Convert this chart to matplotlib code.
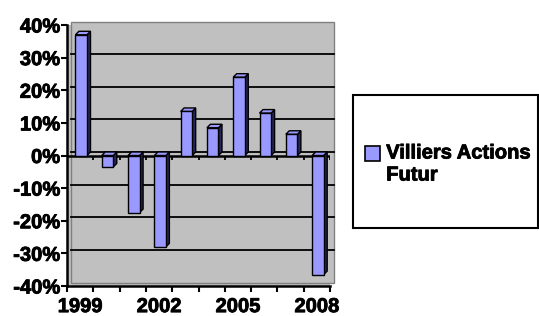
import matplotlib
matplotlib.use("Agg")
import matplotlib.pyplot as plt
import matplotlib.patheffects as pe
from matplotlib.patches import Polygon, Rectangle
from matplotlib.legend_handler import HandlerPatch

years = [1999, 2000, 2001, 2002, 2003, 2004, 2005, 2006, 2007, 2008]
returns = [37, -3.5, -17.5, -28, 13.5, 8.5, 24, 13, 6.5, -36.5]
label_years = [1999, 2002, 2005, 2008]
pct_ticks = [-40, -30, -20, -10, 0, 10, 20, 30, 40]
series_name = "Villiers Actions\nFutur"

face = "#9999FF"
side = "#262659"
wall = "#C0C0C0"
thick = [pe.withStroke(linewidth=0.6, foreground="black")]

plt.rcParams['font.family'] = ['Liberation Sans', 'DejaVu Sans']
plt.rcParams['font.weight'] = 'bold'

W, H = 539, 316
fig = plt.figure(figsize=(W / 100, H / 100), dpi=100)
ax = fig.add_axes([67 / W, 30 / H, 263 / W, 261 / H])
n = len(years)
ax.set_xlim(0, n)
ax.set_ylim(-40, 40)
ax.set_facecolor(wall)

# depth of the fake 3D, in pixels -> data units
dpx = 3.5
dx = dpx * n / ax.bbox.width
dy = dpx * 80 / ax.bbox.height

# back wall, shifted by the depth
ax.add_patch(Rectangle((dx, -40 + dy), n, 80, facecolor=wall, edgecolor="#808080",
                       lw=1, zorder=0, clip_on=False))
for v in pct_ticks[1:-1]:
    ax.plot([dx, n + dx], [v + dy, v + dy], color="black", lw=1.3, zorder=1, clip_on=False)

# floor line at zero with small ticks
ax.plot([0, n], [0, 0], color="black", lw=1.8, zorder=2)
ax.vlines(range(n + 1), -1.4, 0, color="black", lw=1.3, zorder=2)

bw = 0.44
for i, v in enumerate(returns):
    x0 = i + 0.5 - bw / 2 + 0.04
    x1 = x0 + bw
    yb, yt = min(0, v), max(0, v)
    ax.add_patch(Polygon([(x1, yb), (x1 + dx, yb + dy), (x1 + dx, yt + dy), (x1, yt)],
                         closed=True, facecolor=side, edgecolor="black", lw=1, zorder=3))
    ax.add_patch(Polygon([(x0, yt), (x0 + dx, yt + dy), (x1 + dx, yt + dy), (x1, yt)],
                         closed=True, facecolor=face, edgecolor="black", lw=1, zorder=3))
    ax.bar(i + 0.5 + 0.04, v, width=bw, color=face, edgecolor="black", lw=1, zorder=4)

for s in ["top", "right"]:
    ax.spines[s].set_visible(False)
ax.spines["left"].set_linewidth(1.8)
ax.spines["bottom"].set_linewidth(1.8)

ax.set_yticks(pct_ticks)
ax.set_yticklabels([f"{v}%" for v in pct_ticks])
ax.tick_params(axis="y", direction="out", length=4, width=1.5, labelsize=14.5, pad=1)

ax.set_xticks(range(n + 1))
ax.set_xticklabels([])
ax.tick_params(axis="x", which="major", direction="out", length=4, width=1.5)
ax.set_xticks([years.index(y) + 0.5 for y in label_years], minor=True)
ax.set_xticklabels([str(y) for y in label_years], minor=True)
ax.tick_params(axis="x", which="minor", length=0, labelsize=14.5, pad=8)

for t in ax.get_yticklabels() + ax.get_xticklabels(minor=True):
    t.set_path_effects(thick)


def first_line_square(legend, orig_handle, xdescent, ydescent, width, height, fontsize):
    # put the key square next to the first line of the label
    return Rectangle((-xdescent, -ydescent + 0.55 * fontsize), width, height)


# legend box
fig.patches.append(Rectangle((353 / W, 1 - 228 / H), 185 / W, 133 / H,
                             transform=fig.transFigure, facecolor="white",
                             edgecolor="black", lw=1.5))
handle = Rectangle((0, 0), 1, 1, facecolor=face, edgecolor="black", lw=1.2)
leg = fig.legend([handle], [series_name], loc="center left",
                 bbox_to_anchor=(357 / W, 1 - 164 / H), frameon=False,
                 prop={"size": 14.5, "weight": "bold"}, handlelength=0.75, handleheight=0.75,
                 handletextpad=0.3, borderaxespad=0,
                 handler_map={Rectangle: HandlerPatch(patch_func=first_line_square)})
for t in leg.get_texts():
    t.set_path_effects(thick)

fig.savefig("out.png", dpi=100)
